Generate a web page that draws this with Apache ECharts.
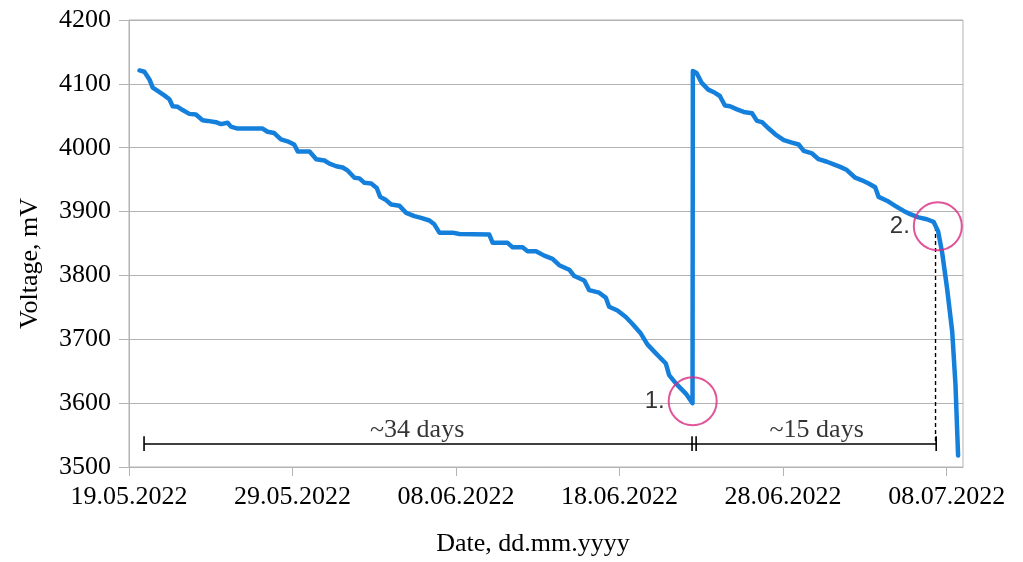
<!DOCTYPE html>
<html>
<head>
<meta charset="utf-8">
<script src="https://cdn.jsdelivr.net/npm/echarts@6/dist/echarts.min.js"></script>
<style>
  html, body { margin: 0; padding: 0; background: #fff; }
  #chart { width: 1023px; height: 562px; }
</style>
</head>
<body>
<div id="chart"></div>
<script>
// x = days since 19.05.2022
var dateTicks = ['19.05.2022', '29.05.2022', '08.06.2022', '18.06.2022', '28.06.2022', '08.07.2022'];
var tickDays = [0, 10, 20, 30, 40, 50];

var dayOffset = [
  0.64, 0.94, 1.25, 1.45, 1.75, 2.16, 2.47, 2.67, 2.98, 3.28, 3.69, 4.09, 4.50, 4.81, 5.32, 5.62, 6.03, 6.23, 6.64, 8.17,
  8.47, 8.88, 9.29, 9.69, 10.10, 10.32, 11.04, 11.45, 11.95, 12.26, 12.67, 13.07, 13.38, 13.79, 14.09, 14.40, 14.81, 15.15, 15.36, 15.72,
  16.03, 16.54, 16.95, 17.45, 17.86, 18.37, 18.67, 18.98, 19.79, 20.20, 22.03, 22.24, 23.15, 23.46, 24.07, 24.37, 24.89, 25.39, 25.90, 26.31,
  26.92, 27.23, 27.84, 28.14, 28.75, 29.16, 29.36, 29.87, 30.38, 30.79, 31.30, 31.70, 32.22, 32.83, 33.03, 33.44, 34.05, 34.46,
  34.48, 34.71, 35.01, 35.42, 35.83, 36.13, 36.44, 36.75, 37.18, 37.59, 38.10, 38.40, 38.71, 39.12, 39.52, 40.04, 40.54, 40.95, 41.26, 41.77,
  42.17, 42.68, 43.09, 43.49, 43.90, 44.41, 44.82, 45.23, 45.63, 45.84, 46.35, 46.85, 47.37, 47.77, 48.28, 48.79, 49.20, 49.48, 49.73, 50.03,
  50.34, 50.54, 50.70
];
var voltage = [
  4121, 4119, 4107, 4094, 4089, 4082, 4076, 4065, 4064, 4059, 4053, 4052, 4043, 4042, 4040, 4037, 4039, 4033, 4030, 4030,
  4025, 4023, 4013, 4010, 4005, 3994, 3994, 3982, 3980, 3975, 3971, 3969, 3964, 3953, 3952, 3945, 3944, 3937, 3923, 3918,
  3911, 3909, 3898, 3893, 3890, 3886, 3880, 3867, 3867, 3865, 3864, 3851, 3851, 3844, 3844, 3838, 3838, 3831, 3826, 3816,
  3809, 3799, 3792, 3777, 3773, 3765, 3751, 3745, 3735, 3724, 3709, 3692, 3678, 3662, 3644, 3631, 3615, 3600,
  4120, 4117, 4102, 4091, 4086, 4081, 4066, 4065, 4060, 4056, 4054, 4042, 4040, 4030, 4021, 4012, 4008, 4005, 3995, 3991,
  3982, 3978, 3974, 3970, 3965, 3953, 3949, 3944, 3938, 3923, 3917, 3909, 3901, 3896, 3891, 3888, 3884, 3869, 3835, 3779,
  3712, 3629, 3518
];

// annotations (data space)
var spanLevel = 3536;
var spanEnds = [0.92, 34.43, 34.68, 49.36];
var spanTickLow = 3525, spanTickHigh = 3548;
var spanLabels = ['~34 days', '~15 days'];
var spanLabelDays = [17.62, 42.05];
var circleDays = [34.47, 49.46];
var circleVolts = [3603, 3877];
var circleLabels = ['1.', '2.'];
var dropDay = 49.32, dropTop = 3876;

var chart = echarts.init(document.getElementById('chart'));
var serif = 'Liberation Serif';

var curve = dayOffset.map(function (d, i) { return [d, voltage[i]]; });

var series = [];
series.push({
  name: 'Voltage',
  type: 'line',
  data: curve,
  symbol: 'none',
  lineStyle: { color: '#1580dc', width: 4.5, join: 'round', cap: 'round' },
  z: 5
});

// dimension line
series.push({
  type: 'line',
  data: [[spanEnds[0], spanLevel], [spanEnds[spanEnds.length - 1], spanLevel]],
  symbol: 'none',
  lineStyle: { color: '#000', width: 1.6 },
  z: 3
});
spanEnds.forEach(function (d) {
  series.push({
    type: 'line',
    data: [[d, spanTickLow], [d, spanTickHigh]],
    symbol: 'none',
    lineStyle: { color: '#000', width: 1.6 },
    z: 3
  });
});
// dashed drop line
series.push({
  type: 'line',
  data: [[dropDay, dropTop], [dropDay, spanLevel]],
  symbol: 'none',
  lineStyle: { color: '#000', width: 1.4, type: [4, 3] },
  z: 3
});
// span texts
series.push({
  type: 'scatter',
  data: spanLabelDays.map(function (d) { return [d, spanLevel]; }),
  symbolSize: 0,
  label: {
    show: true,
    position: 'top',
    distance: 1,
    formatter: function (p) { return spanLabels[p.dataIndex]; },
    fontFamily: serif,
    fontSize: 26,
    color: '#000'
  },
  z: 4
});
// circles
series.push({
  type: 'scatter',
  data: circleDays.map(function (d, i) { return [d, circleVolts[i]]; }),
  symbol: 'circle',
  symbolSize: 48,
  itemStyle: { color: 'rgba(0,0,0,0)', borderColor: '#d92b7f', borderWidth: 2 },
  label: {
    show: true,
    position: 'left',
    distance: 3,
    formatter: function (p) { return circleLabels[p.dataIndex]; },
    fontFamily: 'Liberation Sans',
    fontSize: 24,
    color: '#000'
  },
  z: 6
});

chart.setOption({
  animation: false,
  grid: {
    left: 129,
    right: 60,
    top: 20,
    bottom: 93,
    show: true,
    borderColor: '#b3b3b3',
    borderWidth: 1
  },
  xAxis: {
    type: 'value',
    min: 0,
    max: 51,
    interval: 10,
    name: 'Date, dd.mm.yyyy',
    nameLocation: 'middle',
    nameGap: 64,
    nameTextStyle: { fontFamily: serif, fontSize: 26, color: '#000', padding: [0, 26, 0, 0] },
    axisLine: { lineStyle: { color: '#b3b3b3' } },
    axisTick: { show: true, length: 9, customValues: tickDays, lineStyle: { color: '#b3b3b3' } },
    axisLabel: {
      customValues: tickDays,
      margin: 17,
      fontFamily: serif,
      fontSize: 26,
      color: '#000',
      formatter: function (v) {
        var k = tickDays.indexOf(v);
        return k >= 0 ? dateTicks[k] : '';
      }
    },
    splitLine: { show: false }
  },
  yAxis: {
    type: 'value',
    min: 3500,
    max: 4200,
    interval: 100,
    name: 'Voltage, mV',
    nameLocation: 'middle',
    nameGap: 86,
    nameTextStyle: { fontFamily: serif, fontSize: 26, color: '#000', padding: [0, 40, 0, 0] },
    axisLine: { show: true, lineStyle: { color: '#b3b3b3' } },
    axisTick: { show: true, length: 10, lineStyle: { color: '#b3b3b3' } },
    axisLabel: {
      margin: 18,
      fontFamily: serif,
      fontSize: 26,
      color: '#000',
      formatter: function (v) { return String(v); }
    },
    splitLine: { lineStyle: { color: '#b3b3b3' } }
  },
  series: series
});
</script>
</body>
</html>
